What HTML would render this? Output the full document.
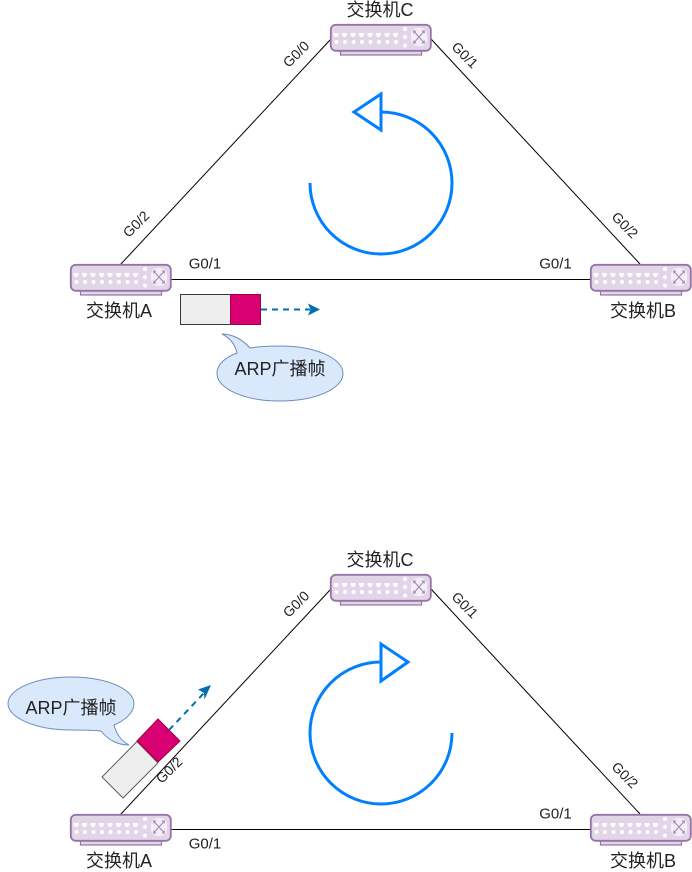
<!DOCTYPE html>
<html>
<head>
<meta charset="utf-8">
<style>
html,body{margin:0;padding:0;background:#fff;width:692px;height:872px;overflow:hidden}
svg{display:block}
text{font-family:"Liberation Sans","Noto Sans CJK SC",sans-serif;fill:#222;text-anchor:middle;dominant-baseline:central}
.n{font-size:18px}
.p{font-size:15px}
.r{font-size:14px}
.c{font-size:18px}
</style>
</head>
<body>
<svg width="692" height="872" viewBox="0 0 692 872" xmlns="http://www.w3.org/2000/svg">
<defs>
<g id="sw">
<rect x="10.500" y="26" width="81" height="5" fill="#e1d5e7" stroke="#9673a6" stroke-width="1.200"/>
<rect x="0.800" y="0.800" width="100" height="26" rx="5" fill="#e1d5e7" stroke="#9673a6" stroke-width="1.800"/>
<g fill="#fff">
<path d="M3.500 9h5v2.500h-1v1.500h-3v-1.500h-1zM12 9h5v2.500h-1v1.500h-3v-1.500h-1zM20.500 9h5v2.500h-1v1.500h-3v-1.500h-1zM29 9h5v2.500h-1v1.500h-3v-1.500h-1zM37.500 9h5v2.500h-1v1.500h-3v-1.500h-1zM46 9h5v2.500h-1v1.500h-3v-1.500h-1zM54.500 9h5v2.500h-1v1.500h-3v-1.500h-1zM63 9h5v2.500h-1v1.500h-3v-1.500h-1z"/>
<circle cx="6.500" cy="18" r="2"/><circle cx="15" cy="18" r="2"/><circle cx="23.500" cy="18" r="2"/><circle cx="32" cy="18" r="2"/><circle cx="40.500" cy="18" r="2"/><circle cx="49" cy="18" r="2"/><circle cx="57.500" cy="18" r="2"/><circle cx="66" cy="18" r="2"/>
<circle cx="75" cy="5" r="2"/><circle cx="75" cy="13" r="2"/><circle cx="75" cy="21.500" r="2"/>
<rect x="81" y="4" width="16" height="18" rx="7" fill="#f4eff6"/>
</g>
<path d="M84.500 8l9 10M93.500 8l-9 10" stroke="#a98bb8" stroke-width="1.200" fill="none"/>
<path d="M83 6.500h3.500l-3 3.500zM95 6.500h-3.500l3 3.500zM83 19.500h3.500l-3-3.500zM95 19.500h-3.500l3-3.500z" fill="#a98bb8"/>
</g>
</defs>

<!-- top diagram -->
<g fill="none" stroke="#000" stroke-width="1">
<path d="M120 265L330 40"/>
<path d="M431 39L640 264"/>
<path d="M171 279.500H590"/>
</g>
<use href="#sw" x="70" y="264"/>
<use href="#sw" x="330" y="24"/>
<use href="#sw" x="590" y="264"/>
<path d="M310 183A71 71 0 1 0 381 112" fill="none" stroke="#007FFF" stroke-width="3"/>
<path d="M381 94V130L354 112Z" fill="#fff" stroke="#007FFF" stroke-width="3"/>
<text class="n" x="380" y="10">交换机C</text>
<text class="n" x="119" y="311">交换机A</text>
<text class="n" x="643" y="311">交换机B</text>
<text class="p" x="205" y="264">G0/1</text>
<text class="p" x="555.500" y="264">G0/1</text>
<text class="r" transform="translate(136 224) rotate(-45)">G0/2</text>
<text class="r" transform="translate(296 54) rotate(-45)">G0/0</text>
<text class="r" transform="translate(465 55) rotate(45)">G0/1</text>
<text class="r" transform="translate(625 225) rotate(45)">G0/2</text>
<rect x="180.500" y="294.500" width="50" height="30" fill="#eeeeee" stroke="#36393d"/>
<rect x="230.500" y="294.500" width="30" height="30" fill="#d80073" stroke="#a50040"/>
<path d="M261 309.500H310" fill="none" stroke="#006eaf" stroke-width="2" stroke-dasharray="6 5"/>
<path d="M320 309.500L308 303.500L310.500 309.500L308 315.500Z" fill="#006eaf"/>
<path d="M237 353C235 344 230 338 222 334C233 334 243 340 250 348C259 346.500 270 346 280 346C315 346 343 358 343 373.500C343 389 315 401 280 401C245 401 217 389 217 373.500C217 365 224 358 237 353Z" fill="#dae8fc" stroke="#6c8ebf"/>
<text class="c" x="280" y="369">ARP广播帧</text>

<!-- bottom diagram -->
<g fill="none" stroke="#000" stroke-width="1">
<path d="M120 815L330 590"/>
<path d="M431 589L640 814"/>
<path d="M171 829.500H590"/>
</g>
<use href="#sw" x="70" y="814"/>
<use href="#sw" x="330" y="574"/>
<use href="#sw" x="590" y="814"/>
<path d="M452 733A71 71 0 1 1 381 662" fill="none" stroke="#007FFF" stroke-width="3"/>
<path d="M381 644V681L408 662Z" fill="#fff" stroke="#007FFF" stroke-width="3"/>
<text class="n" x="380" y="560">交换机C</text>
<text class="n" x="119" y="861">交换机A</text>
<text class="n" x="643" y="861">交换机B</text>
<text class="p" x="205" y="844">G0/1</text>
<text class="p" x="555.500" y="814">G0/1</text>
<text class="r" transform="translate(169 770) rotate(-45)">G0/2</text>
<text class="r" transform="translate(296 604) rotate(-45)">G0/0</text>
<text class="r" transform="translate(465 605) rotate(45)">G0/1</text>
<text class="r" transform="translate(625 775) rotate(45)">G0/2</text>
<path d="M102 777L123 798L158 763L137 741.500Z" fill="#eeeeee" stroke="#36393d" stroke-opacity=".8"/>
<path d="M137 741L158 719L180 741L158 762Z" fill="#d80073" stroke="#a50040"/>
<path d="M169 730L204 693" fill="none" stroke="#006eaf" stroke-width="2" stroke-dasharray="6 5"/>
<path d="M211 685L198 689.500L204 693L204.500 699.500Z" fill="#006eaf"/>
<path d="M114 725C116 733 121 741 129 745C118 745 108 740 101 731C91 730 80 730 71 730C36 730 8 718 8 703.500C8 689 36 677 71 677C106 677 134 689 134 703.500C134 712 126 720 114 725Z" fill="#dae8fc" stroke="#6c8ebf"/>
<text class="c" x="71" y="708">ARP广播帧</text>
</svg>
</body>
</html>
